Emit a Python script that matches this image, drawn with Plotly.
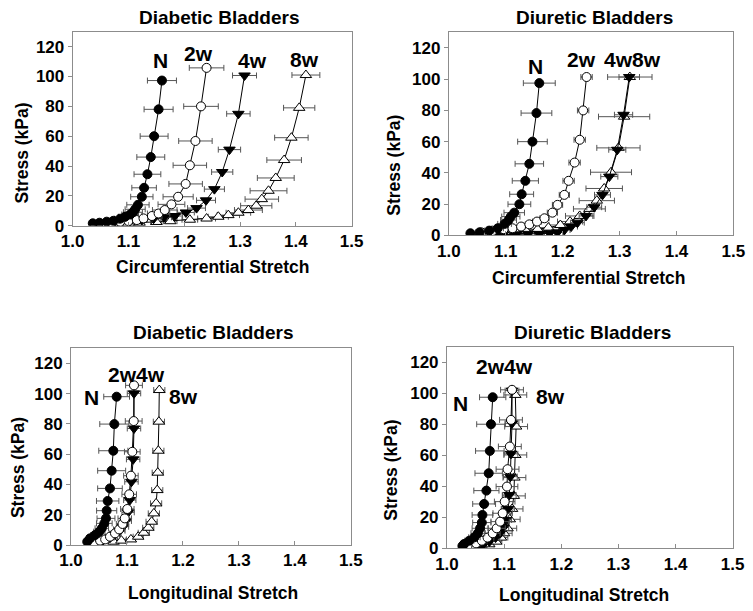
import plotly.graph_objects as go

# ---------------- Data ----------------
series_names = ["N", "2w", "4w", "8w"]

# Panel A: Diabetic, circumferential
A_N_x = [1.036, 1.048, 1.061, 1.073, 1.085, 1.094, 1.103, 1.108, 1.112, 1.117, 1.124, 1.128, 1.134, 1.140, 1.146, 1.154, 1.160]
A_N_y = [1.6, 2.0, 2.7, 3.3, 4.7, 6.0, 7.5, 9.0, 11, 14, 19.4, 25.4, 34.5, 46, 60, 78, 97.3]
A_N_e = [0.004, 0.005, 0.006, 0.008, 0.010, 0.012, 0.015, 0.017, 0.018, 0.020, 0.020, 0.022, 0.024, 0.025, 0.025, 0.026, 0.026]
A_2w_x = [1.070, 1.085, 1.100, 1.115, 1.127, 1.142, 1.154, 1.165, 1.177, 1.189, 1.2025, 1.210, 1.220, 1.230, 1.240]
A_2w_y = [2.2, 2.7, 3.1, 3.8, 4.9, 6.5, 8.2, 10.5, 14.3, 19.4, 28, 40.5, 56.8, 80, 105.8]
A_2w_e = [0.008, 0.010, 0.012, 0.014, 0.016, 0.018, 0.020, 0.022, 0.024, 0.027, 0.030, 0.030, 0.030, 0.031, 0.031]
A_4w_x = [1.073, 1.082, 1.103, 1.124, 1.145, 1.164, 1.183, 1.203, 1.222, 1.239, 1.254, 1.268, 1.281, 1.297, 1.308]
A_4w_y = [1.6, 2.7, 3.3, 3.8, 4.7, 5.6, 6.5, 8.9, 11.8, 17, 24.5, 36, 51, 75, 100.7]
A_4w_e = [0.005, 0.006, 0.008, 0.010, 0.012, 0.013, 0.014, 0.015, 0.016, 0.017, 0.018, 0.019, 0.020, 0.021, 0.0215]
A_8w_x = [1.100, 1.120, 1.150, 1.175, 1.210, 1.240, 1.261, 1.279, 1.297, 1.315, 1.329, 1.339, 1.351, 1.364, 1.379, 1.392, 1.406, 1.418]
A_8w_y = [1.5, 2, 2.5, 3, 4, 4.8, 6, 7.1, 8.7, 10.5, 13.4, 17.8, 23.4, 32, 44, 59, 79, 101]
A_8w_e = [0.006, 0.008, 0.010, 0.012, 0.014, 0.016, 0.018, 0.020, 0.022, 0.025, 0.028, 0.030, 0.033, 0.033, 0.031, 0.030, 0.028, 0.025]

# Panel B: Diuretic, circumferential
B_N_x = [1.038, 1.054, 1.071, 1.086, 1.098, 1.105, 1.109, 1.115, 1.124, 1.128, 1.1345, 1.1415, 1.147, 1.154, 1.159]
B_N_y = [1.3, 1.9, 3.0, 4.5, 7.3, 9.8, 12, 14.5, 19.9, 26.3, 34.9, 45.8, 60, 78.3, 97.5]
B_N_e = [0.004, 0.006, 0.008, 0.010, 0.012, 0.014, 0.016, 0.018, 0.020, 0.021, 0.023, 0.025, 0.026, 0.027, 0.028]
B_2w_x = [1.057, 1.077, 1.0965, 1.112, 1.127, 1.1415, 1.155, 1.168, 1.182, 1.191, 1.203, 1.2105, 1.221, 1.230, 1.236, 1.242]
B_2w_y = [1.9, 2.8, 3.9, 4.5, 5.6, 7.0, 8.8, 10.9, 14.5, 19.5, 25.9, 34.9, 46.6, 61.2, 80, 101.4]
B_2w_e = [0.004, 0.005, 0.006, 0.006, 0.007, 0.007, 0.008, 0.008, 0.009, 0.009, 0.009, 0.010, 0.010, 0.010, 0.010, 0.010]
B_4w_x = [1.080, 1.095, 1.118, 1.139, 1.159, 1.177, 1.191, 1.203, 1.215, 1.226, 1.241, 1.2555, 1.270, 1.282, 1.296, 1.307, 1.317]
B_4w_y = [0.2, 0.3, 0.6, 0.9, 0.9, 1.3, 1.9, 3.4, 5.6, 8.1, 12.4, 18, 25.9, 37.6, 54.8, 77.2, 101.4]
B_4w_e = [0.004, 0.005, 0.006, 0.007, 0.008, 0.009, 0.010, 0.010, 0.011, 0.012, 0.012, 0.013, 0.014, 0.015, 0.015, 0.016, 0.018]
B_8w_x = [1.055, 1.076, 1.098, 1.118, 1.136, 1.156, 1.175, 1.196, 1.213, 1.230, 1.247, 1.260, 1.273, 1.285, 1.298, 1.308, 1.318]
B_8w_y = [1.3, 1.3, 1.9, 2.4, 2.8, 3.9, 4.9, 6.6, 8.8, 12.4, 16.9, 22.2, 30, 40.4, 56, 76, 101.4]
B_8w_e = [0.006, 0.008, 0.010, 0.012, 0.014, 0.016, 0.018, 0.020, 0.022, 0.025, 0.028, 0.031, 0.032, 0.036, 0.038, 0.045, 0.039]

# Panel C: Diabetic, longitudinal
C_N_x = [1.029, 1.034, 1.043, 1.0506, 1.055, 1.0595, 1.0625, 1.0637, 1.0655, 1.0696, 1.0726, 1.0756, 1.0774, 1.0815]
C_N_y = [2.2, 4.4, 6.6, 8.8, 11, 14.3, 17.6, 22.7, 29.1, 37.4, 49.1, 62.3, 79.9, 98]
C_N_e = [0.004, 0.006, 0.008, 0.010, 0.012, 0.014, 0.016, 0.018, 0.020, 0.022, 0.025, 0.026, 0.026, 0.023]
C_2w_x = [1.052, 1.061, 1.0696, 1.0786, 1.086, 1.092, 1.096, 1.1006, 1.104, 1.107, 1.1095, 1.112, 1.1125]
C_2w_y = [2.9, 3.7, 5.5, 7.7, 10.3, 13.9, 17.6, 23.8, 33.5, 45.8, 61.6, 81.9, 105.5]
C_2w_e = [0.006, 0.007, 0.008, 0.009, 0.010, 0.011, 0.012, 0.012, 0.013, 0.013, 0.014, 0.015, 0.015]
C_4w_x = [1.052, 1.0577, 1.0696, 1.0786, 1.0875, 1.093, 1.098, 1.102, 1.105, 1.108, 1.111, 1.1125, 1.1125]
C_4w_y = [2.2, 3.3, 4.8, 7.0, 9.5, 12.1, 15.9, 21.6, 29.7, 41.8, 56.6, 77, 100.2]
C_4w_e = [0.005, 0.006, 0.007, 0.008, 0.009, 0.010, 0.010, 0.011, 0.011, 0.012, 0.012, 0.012, 0.012]
C_8w_x = [1.076, 1.090, 1.107, 1.120, 1.130, 1.138, 1.144, 1.148, 1.152, 1.154, 1.155, 1.156, 1.157, 1.1577]
C_8w_y = [2.2, 2.9, 3.7, 5.5, 8.1, 11.4, 15.4, 20.9, 27.5, 36.3, 47.8, 62.3, 81.5, 102.4]
C_8w_e = [0.006, 0.007, 0.008, 0.009, 0.010, 0.010, 0.010, 0.010, 0.010, 0.010, 0.010, 0.010, 0.010, 0.010]

# Panel D: Diuretic, longitudinal
D_N_x = [1.027, 1.030, 1.039, 1.048, 1.054, 1.058, 1.061, 1.062, 1.065, 1.069, 1.073, 1.075, 1.077, 1.080]
D_N_y = [1.5, 2.8, 4.9, 7.1, 9.7, 12.9, 16.6, 21.5, 28.6, 37.2, 48.4, 62.8, 80, 97.4]
D_N_e = [0.004, 0.006, 0.008, 0.010, 0.012, 0.014, 0.016, 0.018, 0.020, 0.022, 0.024, 0.025, 0.025, 0.023]
D_2w_x = [1.029, 1.036, 1.051, 1.061, 1.071, 1.080, 1.087, 1.093, 1.0975, 1.101, 1.105, 1.106, 1.110, 1.112, 1.1138]
D_2w_y = [1.1, 1.7, 3.2, 4.9, 6.9, 9.7, 12.9, 17.2, 22.6, 30.1, 39.8, 51, 65.6, 82.8, 102.2]
D_2w_e = [0.004, 0.005, 0.007, 0.009, 0.011, 0.013, 0.015, 0.016, 0.017, 0.018, 0.019, 0.020, 0.020, 0.020, 0.020]
D_4w_x = [1.060, 1.062, 1.074, 1.085, 1.093, 1.099, 1.103, 1.107, 1.109, 1.111, 1.112, 1.1138, 1.1138]
D_4w_y = [0.6, 2.2, 4.3, 6.9, 9.7, 13.5, 18.3, 25.4, 34.4, 46.2, 60.9, 80.6, 101.7]
D_4w_e = [0.004, 0.005, 0.006, 0.007, 0.008, 0.009, 0.010, 0.011, 0.012, 0.012, 0.012, 0.012, 0.012]
D_8w_x = [1.036, 1.047, 1.061, 1.074, 1.086, 1.0945, 1.100, 1.106, 1.110, 1.114, 1.117, 1.118, 1.1196, 1.121, 1.1196]
D_8w_y = [0.6, 0.9, 1.5, 2.6, 4.3, 6.9, 9.7, 12.9, 18.7, 25.4, 33.8, 45.6, 60.2, 78.5, 98.9]
D_8w_e = [0.004, 0.005, 0.006, 0.008, 0.010, 0.012, 0.014, 0.016, 0.018, 0.019, 0.020, 0.020, 0.020, 0.020, 0.020]

x_ticks = [1.0, 1.1, 1.2, 1.3, 1.4, 1.5]
y_ticks = [0, 20, 40, 60, 80, 100, 120]

panel_titles = ["Diabetic Bladders", "Diuretic Bladders", "Diabetic Bladders", "Diuretic Bladders"]
x_titles = ["Circumferential Stretch", "Circumferential Stretch", "Longitudinal Stretch", "Longitudinal Stretch"]
y_title = "Stress (kPa)"

# series label text and positions (data coords) per panel
label_texts = [["N", "2w", "4w", "8w"], ["N", "2w", "4w8w"], ["N", "2w4w", "8w"], ["N", "2w4w", "8w"]]
label_x = [[1.158, 1.225, 1.323, 1.416], [1.153, 1.234, 1.323], [1.037, 1.117, 1.2006], [1.023, 1.100, 1.182]]
label_y = [[110.7, 115.4, 110.7, 111.4], [108, 112.5, 112.5], [97.3, 113, 98], [93.1, 117, 97.8]]

panels = [
    [(A_N_x, A_N_y, A_N_e), (A_2w_x, A_2w_y, A_2w_e), (A_4w_x, A_4w_y, A_4w_e), (A_8w_x, A_8w_y, A_8w_e)],
    [(B_N_x, B_N_y, B_N_e), (B_2w_x, B_2w_y, B_2w_e), (B_4w_x, B_4w_y, B_4w_e), (B_8w_x, B_8w_y, B_8w_e)],
    [(C_N_x, C_N_y, C_N_e), (C_2w_x, C_2w_y, C_2w_e), (C_4w_x, C_4w_y, C_4w_e), (C_8w_x, C_8w_y, C_8w_e)],
    [(D_N_x, D_N_y, D_N_e), (D_2w_x, D_2w_y, D_2w_e), (D_4w_x, D_4w_y, D_4w_e), (D_8w_x, D_8w_y, D_8w_e)],
]

# ---------------- Layout geometry ----------------
W, H = 753, 611
x_domains = [[0.0965, 0.467], [0.596, 0.974], [0.0943, 0.466], [0.5936, 0.973]]
y_domains = [[0.6306, 0.948], [0.6149, 0.947], [0.108, 0.430], [0.1026, 0.4326]]
title_pos = [(0.292, 0.972), (0.789, 0.972), (0.283, 0.455), (0.7875, 0.455)]
xtitle_pos = [(0.283, 0.563), (0.782, 0.545), (0.283, 0.0295), (0.776, 0.026)]
ytitle_pos = [(0.029, 0.75), (0.523, 0.73), (0.024, 0.234), (0.519, 0.231)]

FONT = "Liberation Sans, Arial, sans-serif"
styles = [
    dict(symbol="circle", color="black", size=9),
    dict(symbol="circle", color="white", size=9),
    dict(symbol="triangle-down", color="black", size=10),
    dict(symbol="triangle-up", color="white", size=10),
]
draw_order = [3, 2, 1, 0]

fig = go.Figure()
for p, series in enumerate(panels):
    xa = "x" if p == 0 else f"x{p+1}"
    ya = "y" if p == 0 else f"y{p+1}"
    for s in draw_order:
        xs, ys, es = series[s]
        st = styles[s]
        fig.add_trace(go.Scatter(
            x=xs, y=ys, xaxis=xa, yaxis=ya, mode="lines+markers",
            name=series_names[s], showlegend=False,
            line=dict(color="black", width=1),
            marker=dict(symbol=st["symbol"], size=st["size"], color=st["color"],
                        line=dict(color="black", width=1)),
            error_x=dict(type="data", array=es, symmetric=True, color="#555555",
                         thickness=1, width=3),
        ))

layout = dict(
    template="none",
    width=W, height=H, margin=dict(l=0, r=0, t=0, b=0, autoexpand=False),
    paper_bgcolor="white", plot_bgcolor="white", showlegend=False,
    font=dict(family=FONT, color="black"),
)
for p in range(4):
    kx = "xaxis" if p == 0 else f"xaxis{p+1}"
    ky = "yaxis" if p == 0 else f"yaxis{p+1}"
    ya = "y" if p == 0 else f"y{p+1}"
    xa = "x" if p == 0 else f"x{p+1}"
    layout[kx] = dict(domain=x_domains[p], anchor=ya, range=[1.0, 1.5], automargin=False,
                      tickvals=x_ticks, ticktext=[f"{v:.1f}" for v in x_ticks],
                      showgrid=False, zeroline=False, showline=True, mirror=True,
                      linecolor="#8c8c8c", linewidth=1, ticks="inside", ticklen=4,
                      tickcolor="#8c8c8c",
                      tickfont=dict(family=FONT, size=17, color="black", weight="bold"))
    layout[ky] = dict(domain=y_domains[p], anchor=xa, range=[0, 130], automargin=False,
                      tickvals=y_ticks, showgrid=False, zeroline=False,
                      showline=True, mirror=True, linecolor="#8c8c8c", linewidth=1,
                      ticks="outside", ticklen=4, tickcolor="#8c8c8c",
                      tickfont=dict(family=FONT, size=17, color="black", weight="bold"))
fig.update_layout(**layout)

ann = []
for p in range(4):
    ann.append(dict(text=panel_titles[p], x=title_pos[p][0], y=title_pos[p][1],
                    xref="paper", yref="paper", showarrow=False,
                    xanchor="center", yanchor="middle",
                    font=dict(family=FONT, size=19, weight="bold", color="black")))
    ann.append(dict(text=x_titles[p], x=xtitle_pos[p][0], y=xtitle_pos[p][1],
                    xref="paper", yref="paper", showarrow=False,
                    xanchor="center", yanchor="middle",
                    font=dict(family=FONT, size=17.5, weight="bold", color="black")))
    ann.append(dict(text=y_title, x=ytitle_pos[p][0], y=ytitle_pos[p][1],
                    xref="paper", yref="paper", showarrow=False, textangle=-90,
                    xanchor="center", yanchor="middle",
                    font=dict(family=FONT, size=17.5, weight="bold", color="black")))
    xa = "x" if p == 0 else f"x{p+1}"
    ya = "y" if p == 0 else f"y{p+1}"
    for t, lx, ly in zip(label_texts[p], label_x[p], label_y[p]):
        ann.append(dict(text=t, x=lx, y=ly, xref=xa, yref=ya, showarrow=False,
                        xanchor="center", yanchor="middle",
                        font=dict(family=FONT, size=21, weight="bold", color="black")))
fig.update_layout(annotations=ann)

fig.write_html("out.html", config={"displayModeBar": False},
               post_script="document.body.style.margin='0';document.body.style.padding='0';")
